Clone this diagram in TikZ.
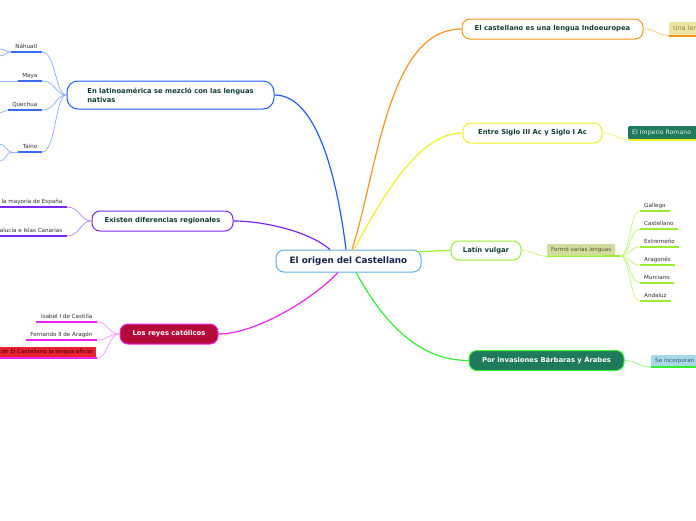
\documentclass[tikz,border=0pt]{standalone}
\usepackage{fontspec}
\setmainfont{DejaVu Sans}
\definecolor{cblue}{RGB}{34,90,255}
\definecolor{cbluel}{RGB}{150,180,255}
\definecolor{cblueu}{RGB}{58,108,240}
\definecolor{cpurple}{RGB}{120,40,238}
\definecolor{cpurplel}{RGB}{185,145,245}
\definecolor{cmagenta}{RGB}{238,34,238}
\definecolor{cmagental}{RGB}{248,160,248}
\definecolor{corange}{RGB}{247,148,30}
\definecolor{corangel}{RGB}{252,200,130}
\definecolor{cyellow}{RGB}{240,240,40}
\definecolor{cyellowl}{RGB}{245,245,140}
\definecolor{clime}{RGB}{153,238,51}
\definecolor{climel}{RGB}{200,245,140}
\definecolor{cgreen}{RGB}{51,238,51}
\definecolor{cgreenl}{RGB}{150,245,150}
\definecolor{ccentral}{RGB}{98,174,228}
\definecolor{ntext}{RGB}{16,62,52}
\definecolor{ctext}{RGB}{22,36,74}
\definecolor{leaftext}{RGB}{45,45,45}
\definecolor{ccrimson}{RGB}{180,10,58}
\definecolor{cteal}{RGB}{30,122,90}
\definecolor{cred}{RGB}{236,34,52}
\definecolor{cformo}{RGB}{211,220,158}
\definecolor{cformot}{RGB}{80,90,40}
\definecolor{cuna}{RGB}{236,228,162}
\definecolor{cunat}{RGB}{140,128,80}
\definecolor{cse}{RGB}{166,216,232}
\definecolor{cset}{RGB}{58,90,106}
\tikzset{
  mainbox/.style={draw, line width=1pt, fill=white, rounded corners=8pt,
    minimum height=20pt, inner sep=0pt,
    font=\fontsize{6.8}{9}\selectfont\bfseries, text=ntext},
  leaf/.style={inner xsep=4.5pt, inner ysep=2.5pt, text height=4pt, text depth=1pt,
    font=\fontsize{5.6}{6}\selectfont, text=leaftext},
  tagbox/.style={inner xsep=4pt, inner ysep=0pt, minimum height=12pt,
    text height=4.4pt, text depth=1pt, font=\fontsize{5.6}{6}\selectfont, rounded corners=1pt},
  conn/.style={line width=1.2pt},
  sub/.style={line width=0.8pt},
  uline/.style={line width=1.6pt},
}
\begin{document}
\begin{tikzpicture}[x=1pt,y=-1pt]
\useasboundingbox (0,0) rectangle (696,520);
\begin{scope}
\clip (0,0) rectangle (696,520);
% main nodes
\node[mainbox, draw=ccentral, minimum width=145pt, minimum height=22pt,
  font=\fontsize{8.8}{10}\selectfont\bfseries, text=ctext] (root) at (348.5,261) {El origen del Castellano};
\node[mainbox, draw=cblue, minimum width=207pt, minimum height=28pt, rounded corners=11pt, align=left] (lat) at (170.5,95) {En latinoamérica se mezcló con las lenguas\\nativas};
\node[mainbox, draw=cpurple, minimum width=141pt] (reg) at (162.5,221) {Existen diferencias regionales};
\node[mainbox, draw=cmagenta, fill=ccrimson, text=white, minimum width=98pt] (rey) at (169,334) {Los reyes católicos};
\node[mainbox, draw=corange, minimum width=181pt] (indo) at (552.5,29) {El castellano es una lengua Indoeuropea};
\node[mainbox, draw=cyellow, minimum width=139pt] (sig) at (532.5,133) {Entre Siglo III Ac y Siglo I Ac};
\node[mainbox, draw=clime, minimum width=70pt, minimum height=19pt] (lv) at (486,250.5) {Latín vulgar};
\node[mainbox, draw=cgreen, fill=cteal, text=white, minimum width=155pt] (inv) at (546.5,360.5) {Por invasiones Bárbaras y Árabes};

% main connectors
\draw[conn, cblue] ([xshift=-2.5pt]root.north) .. controls (336,170) and (315,95) .. (lat.east);
\draw[conn, cpurple] ([xshift=-18.5pt]root.north) .. controls (310,232) and (265,221) .. (reg.east);
\draw[conn, cmagenta] ([xshift=-10.5pt]root.south) .. controls (312,300) and (255,334) .. (rey.east);
\draw[conn, corange] ([xshift=3.5pt]root.north) .. controls (378,168) and (388,29) .. (indo.west);
\draw[conn, cyellow] ([xshift=5.5pt]root.north) .. controls (385,192) and (420,133) .. (sig.west);
\draw[conn, clime] ([xshift=-4pt,yshift=9pt]root.east) .. controls (435,251) and (440,250.5) .. (lv.west);
\draw[conn, cgreen] ([xshift=7.5pt]root.south) .. controls (385,325) and (420,360.5) .. (inv.west);

% latinoamerica children
\node[leaf, anchor=south east] (nah) at (42,52) {Náhuatl};
\node[leaf, anchor=south east] (may) at (42,81) {Maya};
\node[leaf, anchor=south east] (que) at (42,110) {Quechua};
\node[leaf, anchor=south east] (tai) at (42,152) {Taíno};
\foreach \n in {nah,may,que,tai}{
  \draw[sub, cbluel] (lat.west) .. controls (55,95) and (56,0|-\n.south) .. (\n.south east);
  \draw[uline, cblueu] (\n.south west) -- (\n.south east);
}
\coordinate (nahA) at (-1,49);
\coordinate (nahB) at (-1,56);
\coordinate (mayA) at (-1,81);
\coordinate (queA) at (-1,113);
\coordinate (taiA) at (-1,144);
\coordinate (taiB) at (-1,161);
\draw[sub, cbluel] (nah.south west) .. controls (6,52) and (5,49) .. (nahA);
\draw[sub, cbluel] (nah.south west) .. controls (6,52) and (5,56) .. (nahB);
\draw[sub, cbluel] (may.south west) -- (mayA);
\draw[sub, cbluel] (que.south west) .. controls (4,110) and (3,113) .. (queA);
\draw[sub, cbluel] (tai.south west) -- ++(-7,0) coordinate (taiM);
\draw[sub, cbluel] (taiM) .. controls (7,152) and (6,144) .. (taiA);
\draw[sub, cbluel] (taiM) .. controls (7,152) and (6,161) .. (taiB);

% regional children
\node[leaf, anchor=south east] (esp) at (67,207) {la mayoría de España};
\node[leaf, anchor=south east] (and) at (67,236) {alucía e Islas Canarias};
\foreach \n in {esp,and}{
  \draw[sub, cpurplel] (reg.west) .. controls (80,221) and (80,0|-\n.south) .. (\n.south east);
  \draw[uline, cpurple] (\n.south west) -- (\n.south east);
}

% reyes children
\node[leaf, anchor=south east] (isa) at (97,322) {Isabel I de Castilla};
\node[leaf, anchor=south east] (fer) at (97,340) {Fernando II de Aragón};
\node[tagbox, fill=cred, text=black!80!red, anchor=east, inner xsep=3pt, rounded corners=0pt, minimum height=11pt] (ofi) at (96,352) {con El Castellano la lengua oficial};
\coordinate (ofiE) at (97,358);
\coordinate (ofiW) at (-2,358);
\foreach \n in {isa,fer}{
  \draw[sub, cmagental] (rey.west) .. controls (108,334) and (108,0|-\n.south) .. (\n.south east);
  \draw[uline, cmagenta] (\n.south west) -- (\n.south east);
}
\draw[sub, cmagental] (rey.west) .. controls (108,334) and (108,358) .. (ofiE);
\draw[uline, cmagenta] (ofiW) -- (ofiE);

% indoeuropea child
\node[tagbox, fill=cuna, text=cunat, anchor=north west, minimum width=60pt, text width=52pt, minimum height=13pt, font=\fontsize{6.3}{7}\selectfont] (una) at (669,22) {Una len};
\draw[sub, corangel] (indo.east) .. controls (657,29) and (655,35) .. (una.south west);
\draw[uline, corange] ([yshift=-0.8pt]una.south west) -- ([yshift=-0.8pt]una.south east);

% siglo child
\node[tagbox, fill=cteal, text=white!88!cteal, anchor=north west, minimum width=75pt, text width=67pt, minimum height=13pt, font=\fontsize{6.2}{7}\selectfont] (imp) at (628,126) {El Imperio Romano};
\draw[sub, cyellowl] (sig.east) .. controls (615,133) and (615,139) .. (imp.south west);
\draw[uline, cyellow] ([yshift=-0.8pt]imp.south west) -- ([yshift=-0.8pt]imp.south east);

% latin vulgar children
\node[tagbox, fill=cformo, text=cformot, anchor=north west, minimum height=11pt] (form) at (547,244) {Formó varias lenguas};
\coordinate (formE) at (620,256);
\draw[sub, climel] (lv.east) .. controls (535,250.5) and (533,256) .. ([yshift=-0.8pt]form.south west);
\draw[uline, clime] ([yshift=-0.8pt]form.south west) -- (formE);
\node[leaf, anchor=south west, inner xsep=4pt] (gal) at (640,211) {Gallego};
\node[leaf, anchor=south west, inner xsep=4pt] (cas) at (640,229) {Castellano};
\node[leaf, anchor=south west, inner xsep=4pt] (ext) at (640,247) {Extremeño};
\node[leaf, anchor=south west, inner xsep=4pt] (ara) at (640,265) {Aragonés};
\node[leaf, anchor=south west, inner xsep=4pt] (mur) at (640,283) {Murciano};
\node[leaf, anchor=south west, inner xsep=4pt] (anz) at (640,301) {Andaluz};
\foreach \n in {gal,cas,ext,ara,mur,anz}{
  \draw[sub, climel] (formE) .. controls (631,256) and (629,0|-\n.south) .. (\n.south west);
  \draw[uline, clime] (\n.south west) -- (\n.south east);
}

% invasiones child
\node[tagbox, fill=cse, text=cset, anchor=north west, minimum width=55pt, text width=47pt, minimum height=11pt] (se) at (651,355) {Se incorporan};
\draw[sub, cgreenl] (inv.east) .. controls (638,360.5) and (638,367) .. ([yshift=-0.8pt]se.south west);
\draw[uline, cgreen] ([yshift=-0.8pt]se.south west) -- ([yshift=-0.8pt]se.south east);
\end{scope}
\end{tikzpicture}
\end{document}
